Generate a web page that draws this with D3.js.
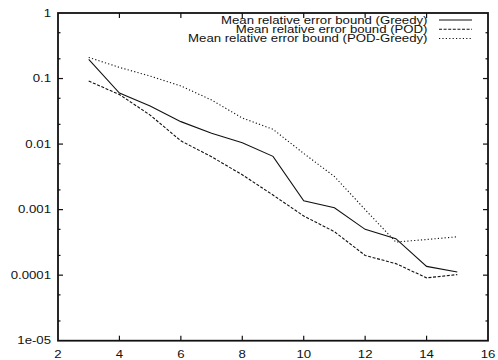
<!DOCTYPE html>
<html><head><meta charset="utf-8">
<script src="https://cdn.jsdelivr.net/npm/d3@7"></script>
<style>
body{margin:0;background:#fff;}
text{font-family:"Liberation Sans",Arial,Helvetica,sans-serif;fill:#111;}
</style></head>
<body><svg id="c" width="498" height="360"></svg>
<script>
const xValues = [3,4,5,6,7,8,9,10,11,12,13,14,15];
const greedy = [0.196,0.060,0.038,0.022,0.0146,0.0105,0.0065,0.00136,0.00107,0.0005,0.00036,0.000136,0.000112];
const pod = [0.0916,0.057,0.0277,0.0112,0.0064,0.0034,0.00167,0.0008,0.00046,0.0002,0.00015,0.000091,0.000102];
const podGreedy = [0.21,0.148,0.109,0.077,0.047,0.025,0.0168,0.0072,0.0032,0.001,0.00032,0.00035,0.000385];
const seriesNames = ["Mean relative error bound (Greedy)","Mean relative error bound (POD)","Mean relative error bound (POD-Greedy)"];
const xTicks = [2,4,6,8,10,12,14,16];
const yTicks = [1,0.1,0.01,0.001,0.0001,0.00001];
const yTickLabels = ["1","0.1","0.01","0.001","0.0001","1e-05"];
const yMinor = [0.5,0.2,0.05,0.02,0.005,0.002,0.0005,0.0002,0.00005,0.00002];

const L=58,R=488,T=13,B=340.7;
const svg=d3.select("#c");
const x=d3.scaleLinear().domain([2,16]).range([L,R]);
const y=d3.scaleLog().domain([1e-5,1]).range([B,T]);
const SX=1.2, FS=11;

const ink="#111";
// ticks
const g=svg.append("g").attr("stroke",ink).attr("stroke-width",1.2);
xTicks.slice(1,-1).forEach(v=>{
  g.append("line").attr("x1",x(v)).attr("x2",x(v)).attr("y1",B).attr("y2",B-5);
  g.append("line").attr("x1",x(v)).attr("x2",x(v)).attr("y1",T).attr("y2",T+5);
});
yTicks.slice(1,-1).forEach(v=>{
  g.append("line").attr("x1",L).attr("x2",L+5).attr("y1",y(v)).attr("y2",y(v));
  g.append("line").attr("x1",R).attr("x2",R-5).attr("y1",y(v)).attr("y2",y(v));
});
yMinor.forEach(v=>{
  g.append("line").attr("x1",L).attr("x2",L+2.5).attr("y1",y(v)).attr("y2",y(v));
  g.append("line").attr("x1",R).attr("x2",R-2.5).attr("y1",y(v)).attr("y2",y(v));
});
svg.append("rect").attr("x",L).attr("y",T).attr("width",R-L).attr("height",B-T)
  .attr("fill","none").attr("stroke",ink).attr("stroke-width",1.8);

function label(px,py,txt,anchor){
  svg.append("text").attr("transform",`translate(${px},${py}) scale(${SX},1)`)
    .attr("text-anchor",anchor).attr("dominant-baseline","central")
    .attr("font-size",FS).text(txt);
}
yTicks.forEach((v,i)=>label(51,y(v),yTickLabels[i],"end"));
xTicks.forEach(v=>label(x(v),354,String(v),"middle"));

const line=d3.line().x((d,i)=>x(xValues[i])).y(d=>y(d));
const styles=[null,"3,1.6","1.2,2.2"];
[greedy,pod,podGreedy].forEach((s,k)=>{
  svg.append("path").datum(s).attr("d",line).attr("fill","none")
    .attr("stroke",ink).attr("stroke-width",1.1).attr("stroke-dasharray",styles[k]);
});
// legend
const rows=[20,29.3,38.5];
seriesNames.forEach((n,k)=>{
  label(427.5,rows[k],n,"end");
  svg.append("line").attr("x1",439).attr("x2",472).attr("y1",rows[k]).attr("y2",rows[k])
    .attr("stroke",ink).attr("stroke-width",1.1).attr("stroke-dasharray",styles[k]);
});
</script></body></html>
